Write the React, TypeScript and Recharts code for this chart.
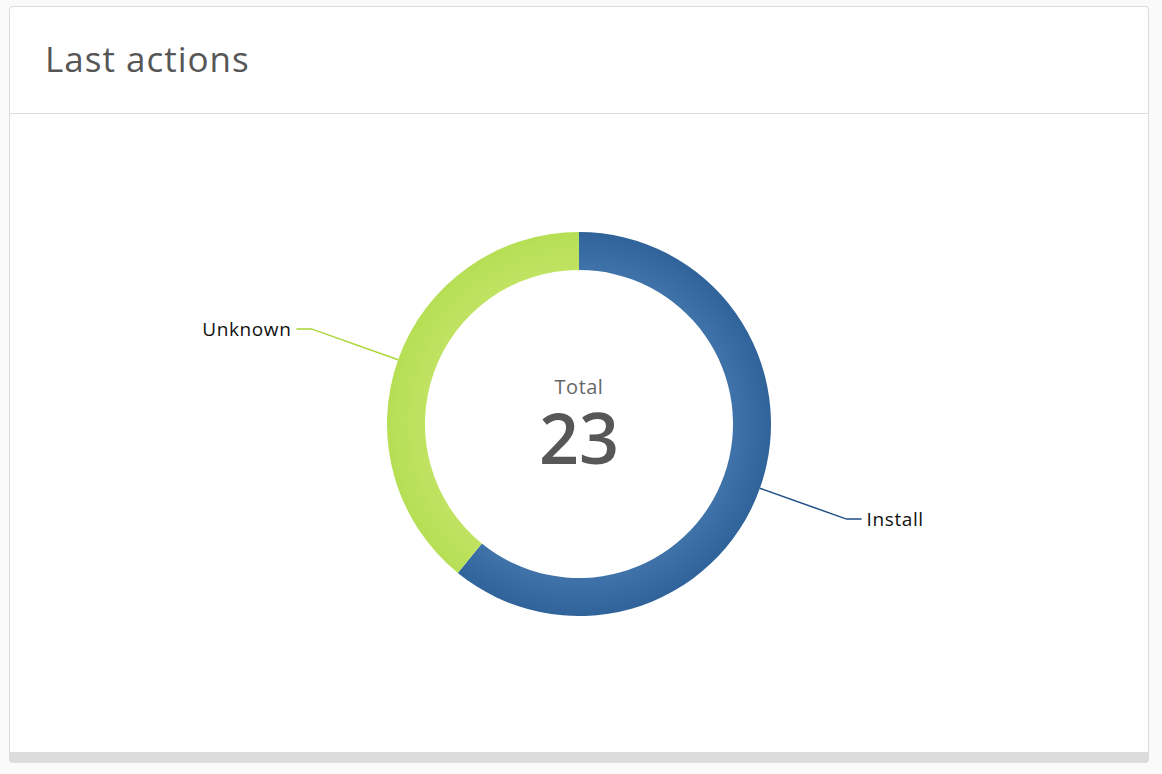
import { Cell, Label, Pie, PieChart } from "recharts";

const actions = ["Install", "Unknown"];
const counts = [14, 9];
const colors = ["url(#blueRing)", "url(#greenRing)"];
const lineColors = ["#1f4f86", "#a9d639"];

const data = actions.map((name, i) => ({ name, value: counts[i] }));
const total = counts.reduce((a, b) => a + b, 0);

const RADIAN = Math.PI / 180;
const FONT = "'Open Sans', Lato, sans-serif";
// pie centre in svg space (chart margin of 5 is added by recharts)
const CX = 569;
const CY = 310;

function renderLabel(props: any) {
  const { cx, cy, midAngle, outerRadius, name, index } = props;
  const cos = Math.cos(-midAngle * RADIAN);
  const sin = Math.sin(-midAngle * RADIAN);
  const sx = cx + outerRadius * cos;
  const sy = cy + outerRadius * sin;
  const mx = cx + (outerRadius + 92) * cos;
  const my = cy + (outerRadius + 92) * sin;
  const right = cos >= 0;
  const ex = mx + (right ? 15 : -15);
  return (
    <g>
      <path
        d={`M${sx},${sy}L${mx},${my}L${ex},${my}`}
        stroke={lineColors[index]}
        strokeWidth={1.5}
        fill="none"
      />
      <text
        x={ex + (right ? 5 : -5)}
        y={my}
        dy="0.35em"
        textAnchor={right ? "start" : "end"}
        fill="#111"
        fontSize={19}
        letterSpacing={0.6}
        fontFamily={FONT}
      >
        {name}
      </text>
    </g>
  );
}

function CenterText() {
  return (
    <g fontFamily={FONT} textAnchor="middle">
      <text x={CX} y={CY - 37} dy="0.35em" fontSize={20} fill="#666" letterSpacing={0.5}>
        Total
      </text>
      <text x={CX} y={CY + 15} dy="0.35em" fontSize={70} fontWeight={600} fill="#575757">
        {total}
      </text>
    </g>
  );
}

export default function App() {
  return (
    <div style={{ position: "fixed", inset: 0, background: "#fafafa" }}>
      <div
        style={{
          position: "absolute",
          left: 9,
          top: 6,
          width: 1138,
          height: 745,
          background: "#fff",
          border: "1px solid #dcdcdc",
          borderBottom: "11px solid #dcdcdc",
          borderRadius: 4,
        }}
      >
        <div
          style={{
            height: 107,
            borderBottom: "1px solid #dcdcdc",
            boxSizing: "border-box",
            paddingLeft: 35,
            paddingBottom: 4,
            display: "flex",
            alignItems: "center",
            fontFamily: FONT,
            fontSize: 35,
            letterSpacing: 1,
            color: "#565656",
          }}
        >
          Last actions
        </div>
        <PieChart width={1138} height={637}>
          <defs>
            <radialGradient id="blueRing" gradientUnits="userSpaceOnUse" cx={CX} cy={CY} r={192}>
              <stop offset="0.8" stopColor="#3f73aa" />
              <stop offset="1" stopColor="#30639a" />
            </radialGradient>
            <radialGradient id="greenRing" gradientUnits="userSpaceOnUse" cx={CX} cy={CY} r={192}>
              <stop offset="0.8" stopColor="#c0e362" />
              <stop offset="1" stopColor="#b6df55" />
            </radialGradient>
          </defs>
          <Pie
            data={data}
            dataKey="value"
            nameKey="name"
            cx={CX - 5}
            cy={CY - 5}
            innerRadius={154}
            outerRadius={192}
            startAngle={90}
            endAngle={-270}
            stroke="none"
            label={renderLabel}
            labelLine={false}
            isAnimationActive={false}
          >
            {data.map((d, i) => (
              <Cell key={d.name} fill={colors[i]} />
            ))}
            <Label position="center" content={<CenterText />} />
          </Pie>
        </PieChart>
      </div>
    </div>
  );
}
